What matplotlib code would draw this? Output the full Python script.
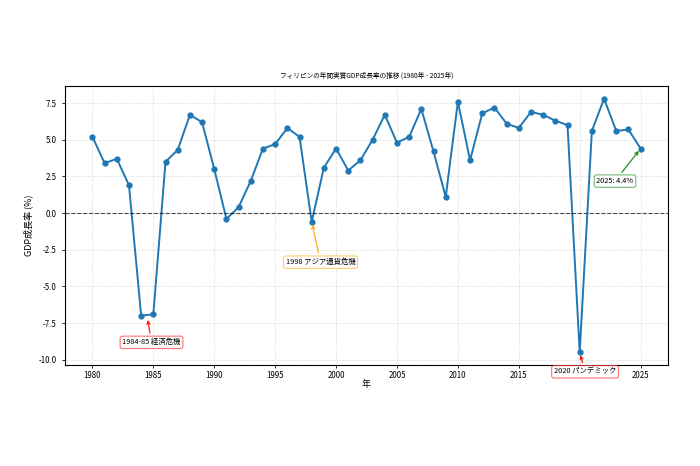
import matplotlib
matplotlib.use("Agg")
import matplotlib.pyplot as plt
from matplotlib.ticker import MultipleLocator
from matplotlib.colors import to_rgba

plt.rcParams['font.family'] = ['Noto Sans CJK JP', 'DejaVu Sans']
plt.rcParams['axes.unicode_minus'] = False

years = list(range(1980, 2026))
growth = [5.2, 3.4, 3.7, 1.9, -7.0, -6.9, 3.5, 4.3, 6.7, 6.2,
          3.0, -0.4, 0.4, 2.2, 4.4, 4.7, 5.8, 5.2, -0.6, 3.1,
          4.4, 2.9, 3.6, 5.0, 6.7, 4.8, 5.2, 7.1, 4.2, 1.1,
          7.6, 3.6, 6.8, 7.2, 6.1, 5.8, 6.9, 6.7, 6.3, 6.0,
          -9.5, 5.6, 7.8, 5.6, 5.7, 4.4]

title = 'フィリピンの年間実質GDP成長率の推移 (1980年 - 2025年)'
xlabel = '年'
ylabel = 'GDP成長率 (%)'

annotations = [
    ('1984-85 経済危機', (1984.5, -7.1), (1984.85, -8.82), 'red'),
    ('1998 アジア通貨危機', (1998, -0.6), (1998.72, -3.35), 'orange'),
    ('2020 パンデミック', (2020, -9.5), (2020.44, -10.83), 'red'),
    ('2025: 4.4%', (2025, 4.4), (2022.9, 2.18), 'green'),
]

fig = plt.figure(figsize=(7, 4.66), dpi=100)
ax = fig.add_axes([0.0929, 0.2167, 0.8614, 0.5987])

ax.plot(years, growth, marker='o', color='#1f77b4', linewidth=1.4, markersize=3.5)
ax.axhline(0, color='black', linestyle='--', linewidth=0.8, alpha=0.7)
ax.grid(True, linestyle=(0, (5, 1.5)), alpha=0.3, linewidth=0.6)
ax.xaxis.set_major_locator(MultipleLocator(5))

for text, xy, xytext, col in annotations:
    ax.annotate(text, xy=xy, xytext=xytext, ha='center', va='center',
                fontsize=5.3, color='black', zorder=5,
                bbox=dict(boxstyle='round,pad=0.3', fc='white', ec=to_rgba(col, 0.55), lw=0.8),
                arrowprops=dict(arrowstyle='->', color=col, lw=1.0, alpha=0.8),
                annotation_clip=False)

ax.set_title(title, fontsize=4.8, pad=6)
ax.set_xlabel(xlabel, fontsize=6.5, labelpad=0)
ax.set_ylabel(ylabel, fontsize=6.5)
ax.tick_params(labelsize=5.7, length=2.5, width=0.6)
ax.tick_params(axis='x', pad=1.5)
for s in ax.spines.values():
    s.set_linewidth(0.8)

fig.savefig('out.png', dpi=100)
